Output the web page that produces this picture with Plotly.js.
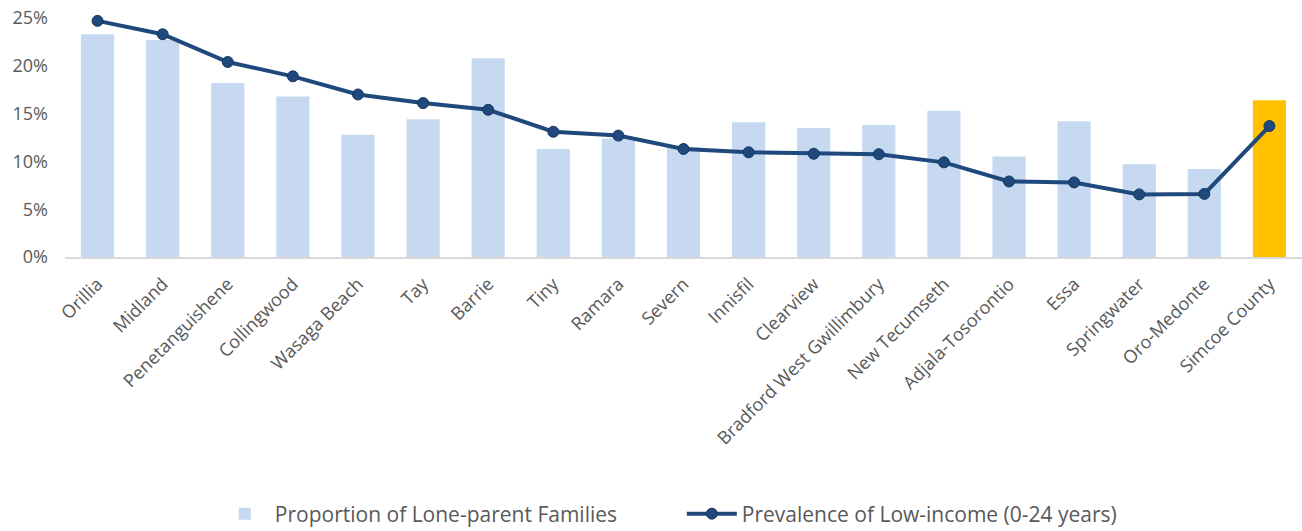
<!DOCTYPE html>
<html>
<head>
<meta charset="utf-8">
<script src="https://cdn.plot.ly/plotly-3.0.1.min.js"></script>
<style>
  html, body { margin: 0; padding: 0; background: #fff; }
  #chart { width: 1302px; height: 531px; }
</style>
</head>
<body>
<div id="chart"></div>
<script>
// Municipalities of Simcoe County, ordered by low-income prevalence
const municipalities = [
  "Orillia", "Midland", "Penetanguishene", "Collingwood", "Wasaga Beach",
  "Tay", "Barrie", "Tiny", "Ramara", "Severn", "Innisfil", "Clearview",
  "Bradford West Gwillimbury", "New Tecumseth", "Adjala-Tosorontio",
  "Essa", "Springwater", "Oro-Medonte", "Simcoe County"
];

// Proportion of lone-parent families (%)
const loneParentPct = [
  23.3, 22.7, 18.2, 16.8, 12.8, 14.4, 20.8, 11.3, 12.4, 11.5,
  14.1, 13.5, 13.8, 15.3, 10.5, 14.2, 9.7, 9.2, 16.4
];

// Prevalence of low-income, ages 0-24 (%)
const lowIncomePct = [
  24.7, 23.3, 20.4, 18.9, 17.0, 16.1, 15.4, 13.1, 12.7, 11.3,
  10.95, 10.8, 10.75, 9.9, 7.9, 7.8, 6.55, 6.6, 13.7
];

const yTicks = [0, 5, 10, 15, 20, 25];

const countyName = "Simcoe County";
const barColors = municipalities.map(m => m === countyName ? "#FFC000" : "#C6D9F0");

const font = "'Open Sans', sans-serif";

const traces = [
  {
    type: "bar",
    name: "Proportion of Lone-parent Families",
    x: municipalities,
    y: loneParentPct,
    marker: { color: barColors, line: { width: 0 } },
    hoverinfo: "x+y"
  },
  {
    type: "scatter",
    mode: "lines+markers",
    name: "Prevalence of Low-income (0-24 years)",
    x: municipalities,
    y: lowIncomePct,
    cliponaxis: false,
    line: { color: "#1F497D", width: 4 },
    marker: { color: "#1F497D", size: 11, line: { color: "#17375E", width: 1 } }
  }
];

const layout = {
  width: 1302,
  height: 531,
  margin: { l: 65, r: 0, t: 18, b: 274, autoexpand: false },
  paper_bgcolor: "#fff",
  plot_bgcolor: "#fff",
  bargap: 0.49,
  showlegend: true,
  font: { family: font, size: 18, color: "#595959" },
  xaxis: {
    type: "category",
    range: [-0.5, municipalities.length - 0.5],
    tickangle: -45,
    showgrid: false,
    showline: true,
    linecolor: "#D9D9D9",
    linewidth: 1.5,
    ticks: "",
    ticklabelstandoff: 8,
    automargin: false,
    tickfont: { family: font, size: 18, color: "#595959" },
    fixedrange: true
  },
  yaxis: {
    range: [0, 25],
    tickvals: yTicks,
    ticktext: yTicks.map(v => v + "%"),
    showgrid: false,
    zeroline: false,
    showline: false,
    ticks: "",
    ticklabelstandoff: 16,
    automargin: false,
    tickfont: { family: font, size: 18, color: "#595959" },
    fixedrange: true
  },
  legend: {
    orientation: "h",
    xref: "container",
    yref: "container",
    x: 0.165,
    xanchor: "left",
    y: 0.032,
    yanchor: "middle",
    font: { family: font, size: 21, color: "#595959" },
    itemwidth: 50,
    entrywidth: 402,
    entrywidthmode: "pixels",
    traceorder: "normal"
  }
};

Plotly.newPlot("chart", traces, layout, { displayModeBar: false, staticPlot: true });
</script>
</body>
</html>
